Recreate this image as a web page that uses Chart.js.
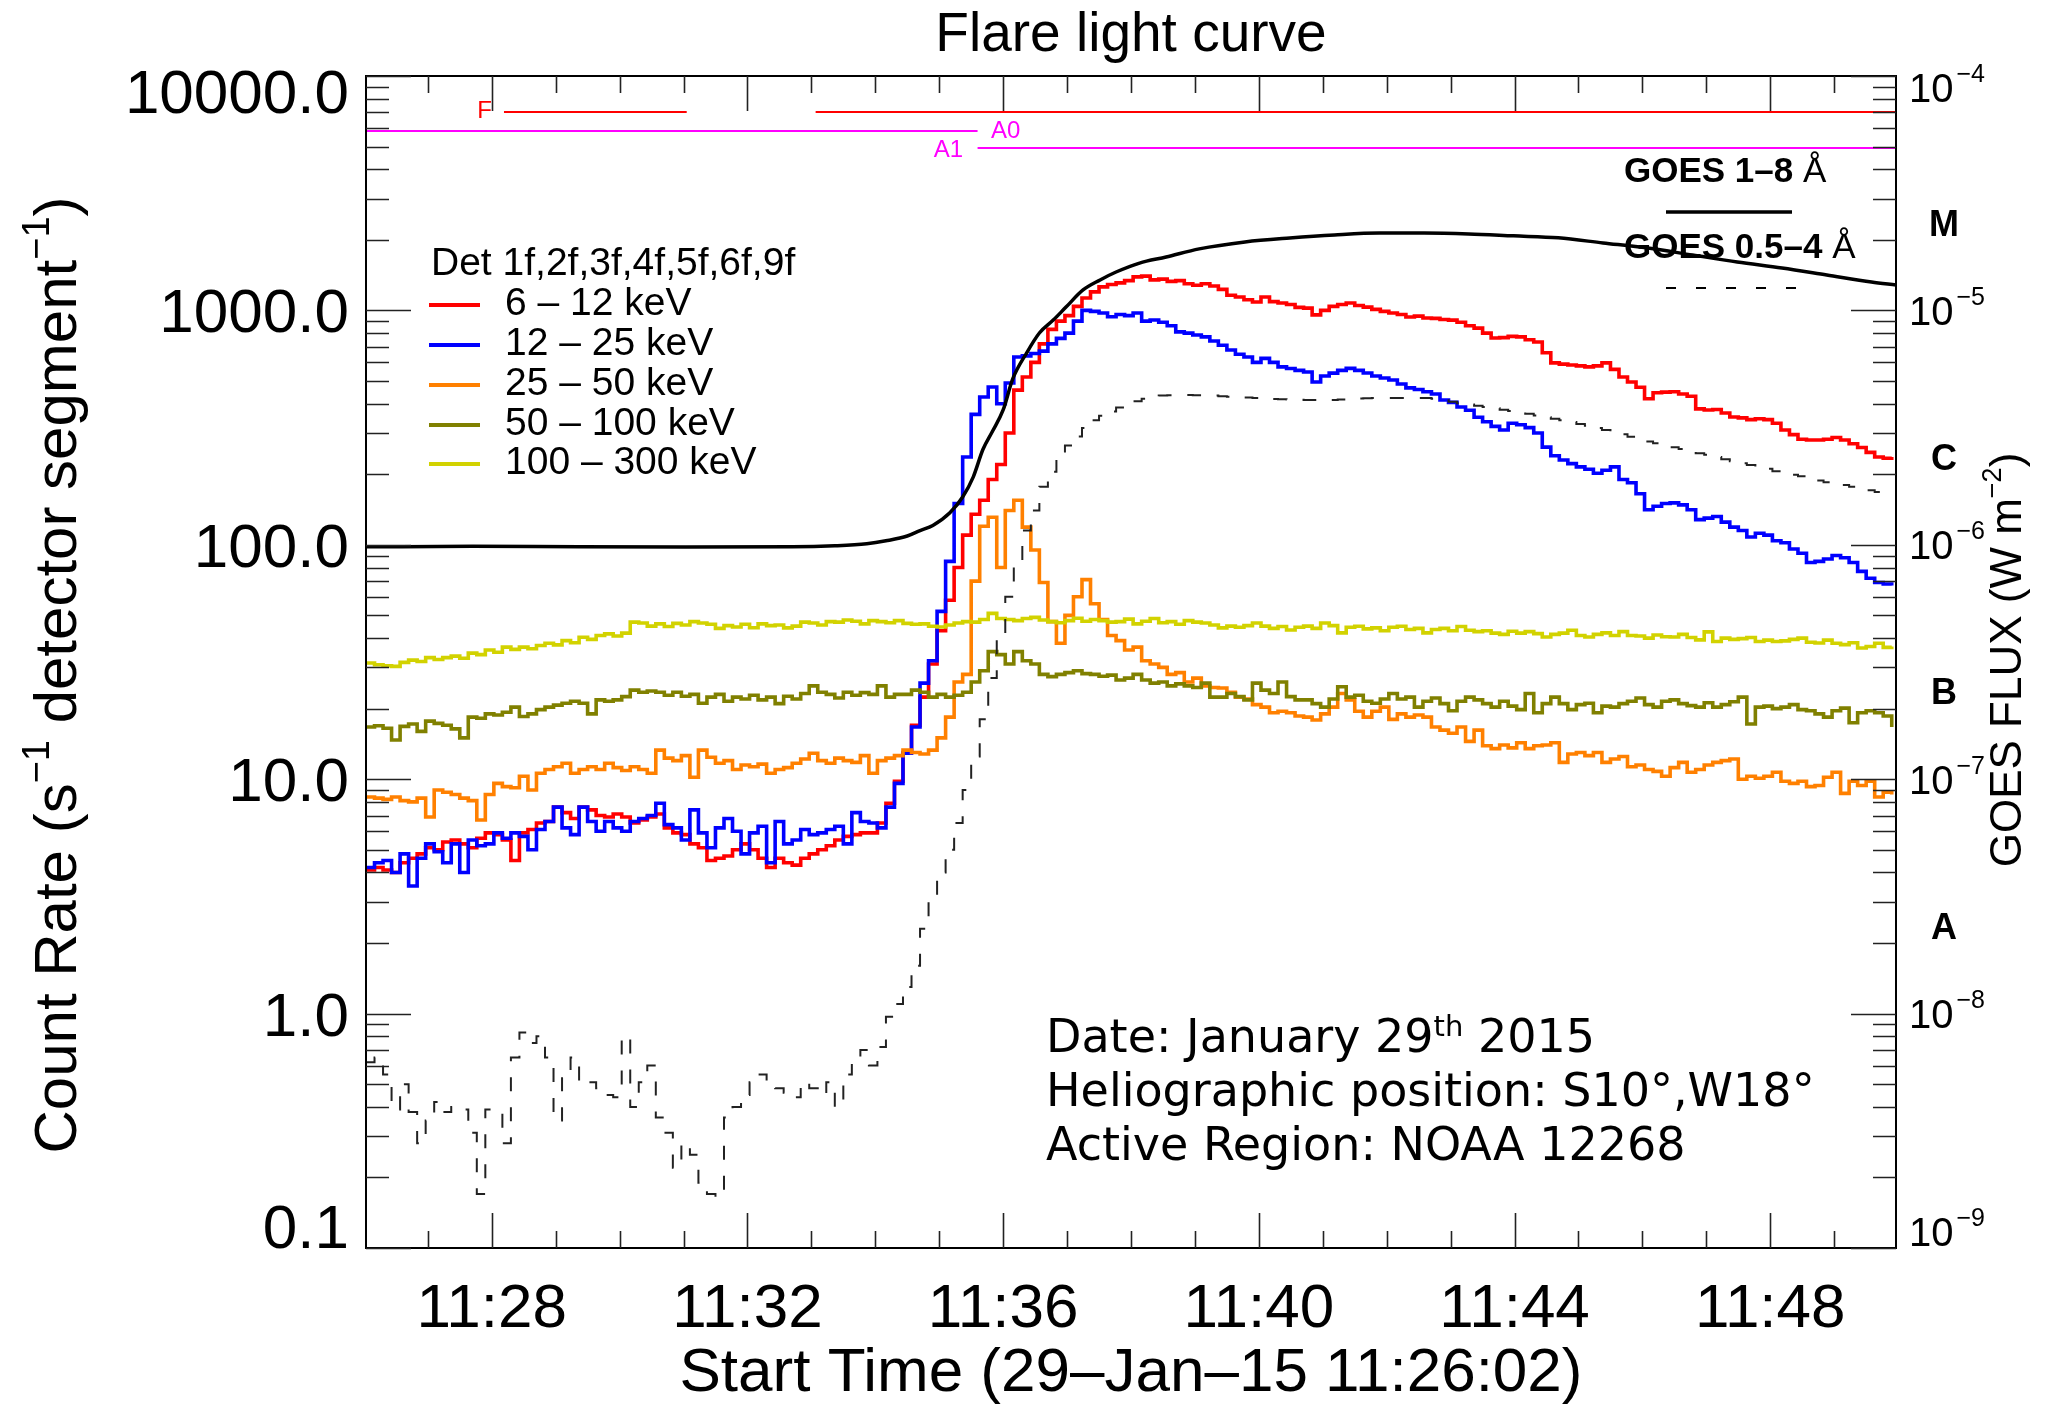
<!DOCTYPE html>
<html>
<head>
<meta charset="utf-8">
<title>Flare light curve</title>
<script src="https://cdn.jsdelivr.net/npm/chart.js@4.4.1/dist/chart.umd.min.js"></script>
<style>
html, body { margin: 0; padding: 0; background: #ffffff; }
#box { width: 2050px; height: 1406px; position: relative; }
canvas { display: block; }
</style>
</head>
<body>
<div id="box"><canvas id="chart" width="2050" height="1406" style="width:2050px;height:1406px"></canvas></div>
<script>
// ================= DATA =================
// RHESSI count rates (s^-1 detector segment^-1), 8 s bins starting 11:26:02
const binSeconds = 8;
const rate6to12 = [
  4.1, 4.2, 4.1, 4.0, 4.4, 4.6, 4.8, 5.1, 5.0, 5.4,
  5.5, 5.3, 5.1, 5.6, 5.9, 5.8, 5.5, 4.5, 5.9, 6.1,
  6.5, 6.6, 7.6, 7.2, 6.8, 7.6, 7.4, 7.0, 6.9, 7.1,
  6.9, 6.5, 6.7, 6.9, 7.1, 6.2, 5.9, 5.8, 5.3, 5.1,
  4.5, 4.6, 4.7, 5.0, 5.3, 5.0, 4.6, 4.2, 4.6, 4.4,
  4.3, 4.6, 4.8, 5.0, 5.2, 5.5, 5.7, 5.8, 5.9, 5.9,
  6.5, 7.9, 9.8, 13.0, 17.0, 22.4, 31, 43, 58, 80,
  110, 135, 155, 190, 220, 300, 457, 520, 600, 720,
  830, 900, 950, 1040, 1130, 1200, 1260, 1290, 1310, 1340,
  1390, 1400, 1350, 1360, 1330, 1340, 1300, 1280, 1300, 1270,
  1230, 1160, 1140, 1110, 1086, 1141, 1090, 1076, 1060, 1030,
  1023, 957, 1000, 1040, 1060, 1076, 1050, 1033, 1010, 990,
  975, 960, 937, 945, 928, 925, 915, 909, 890, 860,
  840, 800, 762, 765, 775, 771, 750, 733, 660, 597,
  590, 585, 580, 574, 580, 597, 560, 520, 495, 470,
  420, 445, 448, 450, 440, 430, 380, 376, 378, 365,
  351, 348, 342, 345, 342, 330, 309, 295, 282, 280,
  280, 282, 287, 280, 270, 260, 248, 237, 234, 237
];
const rate12to25 = [
  4.2, 4.4, 4.5, 4.0, 4.8, 3.5, 4.6, 5.3, 4.9, 4.4,
  5.3, 4.0, 5.5, 5.2, 5.3, 5.9, 5.6, 5.9, 5.7, 5.0,
  6.1, 6.6, 7.6, 6.2, 5.8, 7.6, 6.6, 6.0, 6.6, 6.2,
  6.0, 6.6, 6.8, 7.0, 7.9, 6.4, 6.2, 5.5, 7.4, 5.9,
  5.1, 6.2, 6.8, 6.0, 4.8, 5.9, 6.3, 4.4, 6.6, 5.3,
  5.5, 6.1, 5.8, 5.9, 6.1, 6.3, 5.3, 7.2, 6.6, 6.5,
  6.2, 7.6, 9.6, 12.9, 16.7, 25.7, 32, 52, 85, 150,
  237, 360, 427, 471, 400, 490, 633, 640, 655, 670,
  720, 760, 800, 900, 1000, 990, 975, 940, 960, 950,
  975, 900, 910, 890, 860, 810, 800, 785, 771, 740,
  710, 678, 650, 633, 600, 624, 600, 574, 565, 555,
  546, 495, 525, 540, 555, 566, 555, 541, 525, 515,
  505, 485, 467, 460, 450, 440, 415, 405, 387, 375,
  350, 335, 320, 309, 330, 325, 316, 300, 261, 240,
  230, 222, 215, 210, 202, 208, 215, 190, 184, 165,
  141, 146, 150, 151, 148, 141, 128, 130, 132, 125,
  119, 115, 108, 112, 110, 104, 102, 96, 92, 84,
  85, 87, 90, 88, 84, 77, 72, 69, 68, 67
];
const rate25to50 = [
  8.4, 8.3, 8.2, 8.4, 8.1, 8.0, 8.3, 6.9, 9.0, 8.8,
  8.6, 8.3, 8.1, 6.7, 8.6, 9.6, 9.3, 9.2, 10.3, 9.0,
  10.6, 11.0, 11.3, 11.7, 10.6, 11.0, 11.3, 11.0, 11.7, 11.2,
  10.9, 11.3, 11.0, 10.6, 13.3, 12.3, 12.0, 12.6, 10.2, 13.3,
  12.4, 11.7, 12.0, 11.0, 11.5, 11.3, 11.6, 10.6, 11.0, 11.2,
  11.7, 12.2, 12.9, 12.0, 11.7, 12.3, 12.0, 11.8, 12.6, 10.6,
  12.0, 12.3, 12.6, 13.3, 13.0, 12.8, 13.3, 15.0, 18.4, 26,
  28, 70, 120, 131, 80, 140, 155, 119, 95, 69,
  47, 38, 50, 60, 71, 56, 48, 41, 39, 35.6,
  36.6, 32, 31, 30, 28, 28.5, 26, 27, 25, 24.6,
  24.5, 23.5, 22.4, 22.0, 20.8, 20.3, 19.2, 19.5, 19.2, 18.6,
  18.4, 17.9, 19.0, 20.3, 23.2, 21.8, 19.5, 18.4, 19.5, 20.3,
  18.0, 19.0, 18.4, 18.8, 18.4, 16.7, 16.2, 15.7, 16.7, 14.5,
  16.2, 13.9, 13.5, 14.0, 13.6, 14.3, 13.5, 13.9, 14.0, 14.3,
  11.8, 12.8, 13.0, 12.6, 13.0, 11.8, 12.2, 12.5, 11.3, 11.5,
  11.0, 10.8, 10.3, 11.2, 11.8, 10.7, 11.0, 11.5, 11.8, 12.0,
  12.2, 10.0, 10.3, 10.1, 10.3, 10.7, 9.8, 9.6, 9.8, 9.3,
  9.4, 10.2, 10.7, 8.7, 9.8, 9.4, 9.8, 8.4, 8.8, 8.6
];
const rate50to100 = [
  16.7, 16.9, 16.5, 14.7, 16.8, 17.2, 16.0, 17.7, 17.3, 17.0,
  16.4, 15.0, 18.4, 18.2, 19.0, 18.8, 19.3, 20.3, 18.5, 19.0,
  19.8, 20.3, 20.7, 21.1, 21.5, 21.1, 19.0, 21.8, 21.5, 21.8,
  22.5, 24.0, 23.5, 23.8, 23.5, 22.8, 23.5, 22.6, 23.0, 21.1,
  22.4, 23.0, 21.5, 22.4, 22.0, 22.8, 21.8, 22.4, 21.0, 22.6,
  22.0, 23.2, 25.0, 23.5, 23.0, 22.2, 23.5, 22.8, 23.4, 23.0,
  25.0, 22.4, 23.0, 23.0, 24.0, 23.5, 22.4, 23.0, 22.4, 22.8,
  23.5, 26.0, 29.0, 35.0, 34.0, 31.0, 35.0, 32.0, 31.0, 28.0,
  27.4, 28.0, 28.5, 29.0, 28.2, 28.0, 27.5, 27.8, 26.5, 27.0,
  28.0, 26.5, 25.7, 26.0, 25.0, 25.5, 25.0, 24.6, 25.7, 22.4,
  22.4, 23.2, 22.5, 21.8, 25.7, 24.0, 23.2, 26.0, 22.5, 21.8,
  21.8, 21.0, 20.3, 22.0, 24.8, 22.4, 22.8, 21.5, 21.1, 22.0,
  23.2, 22.0, 22.4, 20.3, 21.5, 22.2, 21.0, 19.6, 21.5, 22.4,
  21.8, 21.0, 20.3, 21.5, 20.5, 19.8, 23.2, 19.2, 21.0, 22.4,
  21.0, 19.8, 20.8, 21.1, 19.2, 20.5, 20.3, 21.0, 21.5, 22.2,
  20.8, 20.3, 21.5, 21.8, 21.0, 20.6, 20.3, 21.2, 20.3, 20.8,
  21.4, 22.4, 17.2, 20.3, 20.5, 20.0, 20.3, 20.8, 19.8, 19.6,
  19.0, 18.4, 19.6, 20.1, 17.4, 19.2, 19.6, 19.2, 18.6, 16.7
];
const rate100to300 = [
  31.3, 30.8, 30.5, 30.3, 31.5, 32.2, 31.8, 33.0, 32.4, 33.0,
  33.5, 32.8, 34.5, 34.0, 35.6, 34.8, 36.6, 35.8, 36.6, 36.0,
  37.2, 38.0, 37.4, 39.0, 38.2, 40.3, 39.5, 41.0, 41.7, 40.8,
  42.0, 46.8, 46.4, 45.0, 46.0, 44.8, 46.2, 45.5, 47.0, 46.4,
  45.8, 44.0, 45.2, 44.6, 45.8, 44.3, 46.0, 45.2, 45.5, 44.2,
  45.0, 46.8, 46.4, 45.5, 47.0, 46.8, 47.8, 47.2, 46.0, 47.5,
  47.0, 46.5, 47.5, 46.2, 45.8, 46.0, 44.9, 44.6, 45.5, 46.4,
  47.0, 46.8, 48.0, 51.0, 48.5, 48.0, 47.5, 48.5, 49.0, 47.8,
  47.0, 46.5, 47.5, 48.6, 47.2, 48.0, 47.5, 46.8, 47.0, 48.2,
  46.0, 47.2, 48.5, 46.5, 47.0, 45.8, 47.5, 46.8, 46.4, 45.5,
  44.2, 45.0, 44.5, 45.2, 46.4, 45.0, 44.0, 44.8, 43.3, 44.5,
  45.0, 44.0, 46.4, 45.2, 42.1, 44.5, 44.9, 43.8, 44.2, 43.0,
  44.5, 44.9, 43.5, 44.0, 42.1, 43.5, 44.0, 43.0, 44.8, 43.2,
  42.6, 43.0, 42.0, 41.5, 42.8, 42.0, 42.6, 41.8, 40.4, 41.5,
  42.0, 43.2, 41.0, 40.4, 41.5, 42.1, 41.0, 42.6, 41.0, 40.8,
  40.0, 41.2, 40.5, 40.4, 41.5, 40.2, 39.3, 42.5, 38.7, 40.0,
  39.5, 39.8, 40.2, 38.7, 39.2, 38.7, 38.9, 39.5, 40.0, 38.4,
  38.1, 39.2, 38.0, 37.5, 38.2, 36.3, 36.8, 38.0, 36.5, 36.8
];
// GOES 0.5-4 A flux on the same 8 s grid, in units of 1e-8 W m^-2
const goes05to4 = [
  0.62, 0.65, 0.55, 0.39, 0.50, 0.38, 0.28, 0.35, 0.42, 0.38,
  0.40, 0.39, 0.31, 0.17, 0.39, 0.39, 0.28, 0.65, 0.83, 0.75,
  0.80, 0.65, 0.35, 0.55, 0.65, 0.50, 0.51, 0.48, 0.45, 0.44,
  0.80, 0.40, 0.51, 0.60, 0.36, 0.31, 0.22, 0.28, 0.25, 0.19,
  0.17, 0.165, 0.36, 0.40, 0.45, 0.51, 0.55, 0.50, 0.48, 0.46,
  0.44, 0.51, 0.48, 0.45, 0.51, 0.40, 0.55, 0.62, 0.70, 0.60,
  0.72, 0.97, 1.10, 1.30, 1.60, 2.3, 3.0, 4.0, 5.0, 6.5,
  9.0, 12.5, 18, 27, 42, 60, 85, 115, 140, 177,
  205, 240, 265, 290, 315, 340, 355, 370, 385, 398,
  410, 420, 428, 433, 435, 436, 436, 435, 435, 433,
  430, 428, 426, 425, 423, 421, 419, 418, 417, 416,
  415, 415, 414, 415, 417, 419, 421, 422, 423, 423,
  423, 423, 423, 423, 423, 420, 414, 408, 402, 397,
  392, 387, 382, 377, 372, 367, 362, 356, 350, 345,
  340, 334, 328, 322, 315, 309, 303, 296, 289, 282,
  276, 271, 266, 261, 256, 251, 246, 242, 237, 232,
  227, 223, 219, 215, 211, 206, 202, 199, 196, 192,
  188, 185, 183, 180, 177, 174, 171, 168, 164, 162
];
// GOES 1-8 A flux (units of 1e-8 W m^-2) at its own sample times (s after 11:26:02)
const goes1to8Time = [0, 100, 200, 300, 400, 440, 470, 488, 508, 520, 532, 548, 560, 570, 579,
  588, 598, 607, 620, 632, 645, 657, 673, 689, 704, 726, 751, 782, 825, 867, 909, 951, 993,
  1035, 1077, 1119, 1161, 1203, 1245, 1287, 1329, 1371, 1413, 1436];
const goes1to8 = [98, 98.5, 98, 97.8, 98, 99, 101, 104, 109, 115, 121, 137, 160, 195, 255,
  305, 376, 510, 658, 801, 909, 1033, 1222, 1349, 1458, 1592, 1690, 1830, 1959, 2037, 2099, 2138, 2138,
  2120, 2080, 2040, 1940, 1845, 1723, 1609, 1516, 1416, 1322, 1283];

// RHESSI flag / attenuator state intervals (s after 11:26:02)
const flagFIntervals = [[129.5, 301], [422, 1436]];
const attenA0Interval = [0, 574];
const attenA1Interval = [574, 1436];

// Axis ticks and labels
const timeEndSec = 1436;
const minuteTickStart = 58;               // 11:27:00
const timeTickSec = [118, 358, 598, 838, 1078, 1318];
const timeTickLabels = ['11:28', '11:32', '11:36', '11:40', '11:44', '11:48'];
const countTickValues = [0.1, 1, 10, 100, 1000, 10000];
const countTickLabels = ['0.1', '1.0', '10.0', '100.0', '1000.0', '10000.0'];
const goesTickExponents = [-9, -8, -7, -6, -5, -4];
const goesClassLabels = ['A', 'B', 'C', 'M'];
const goesClassFlux = [2.3e-8, 2.3e-7, 2.3e-6, 2.3e-5];
const bandLabels = ['6 – 12 keV', '12 – 25 keV', '25 – 50 keV', '50 – 100 keV', '100 – 300 keV'];
const detectorLabel = 'Det 1f,2f,3f,4f,5f,6f,9f';
const goesLegendLabels = [['GOES 1–8', ' Å'], ['GOES 0.5–4', ' Å']];
const infoDate = ['Date: January 29', 'th', ' 2015'];
const infoPosition = 'Heliographic position: S10°,W18°';
const infoRegion = 'Active Region: NOAA 12268';

// ================= BUILD =================
const GOES_UNIT = 1e-8;
const binStart = rate6to12.map((_, i) => i * binSeconds);
const toXY = (vals, k) => vals.map((v, i) => ({ x: binStart[i], y: v * (k || 1) }));
const FONT = '"Liberation Sans", Arial, Helvetica, sans-serif';
const INFO_FONT = '"DejaVu Sans", Verdana, sans-serif';
const bandColors = ['#ff0000', '#0000ff', '#ff8000', '#808000', '#d2d200'];
const bandSeries = [rate6to12, rate12to25, rate25to50, rate50to100, rate100to300];
const bandOrder = [8, 7, 6, 5, 4];   // lower order is drawn on top

function segmentsToData(intervals, level) {
  const out = [];
  intervals.forEach((iv, j) => {
    if (j > 0) out.push({ x: (intervals[j - 1][1] + iv[0]) / 2, y: null });
    out.push({ x: iv[0], y: level }, { x: iv[1], y: level });
  });
  return out;
}

const datasets = [];
datasets.push({
  label: 'GOES 1-8', yAxisID: 'yGoes', order: 0,
  data: goes1to8Time.map((t, i) => ({ x: t, y: goes1to8[i] * GOES_UNIT })),
  borderColor: '#000', borderWidth: 3.5, pointRadius: 0, cubicInterpolationMode: 'monotone', fill: false
});
datasets.push({
  label: 'GOES 0.5-4', yAxisID: 'yGoes', order: 1,
  data: toXY(goes05to4, GOES_UNIT),
  borderColor: '#222', borderWidth: 2, borderDash: [14, 16], pointRadius: 0, stepped: true, fill: false
});
datasets.push({ label: 'F', yAxisID: 'yCount', order: 2, data: segmentsToData(flagFIntervals, 7020),
  borderColor: '#ff0000', borderWidth: 2, pointRadius: 0, spanGaps: false });
datasets.push({ label: 'A0', yAxisID: 'yCount', order: 2, data: segmentsToData([attenA0Interval], 5825),
  borderColor: '#ff00ff', borderWidth: 2, pointRadius: 0 });
datasets.push({ label: 'A1', yAxisID: 'yCount', order: 2, data: segmentsToData([attenA1Interval], 4930),
  borderColor: '#ff00ff', borderWidth: 2, pointRadius: 0 });
bandSeries.forEach((s, i) => {
  datasets.push({
    label: bandLabels[i], yAxisID: 'yCount', order: bandOrder[i],
    data: toXY(s), borderColor: bandColors[i], borderWidth: 3.6, pointRadius: 0,
    stepped: true, fill: false, borderJoinStyle: 'miter'
  });
});

function drawRich(ctx, parts, x, y, align, angle) {
  ctx.save();
  ctx.translate(x, y);
  if (angle) ctx.rotate(angle);
  let w = 0;
  for (const p of parts) { ctx.font = p.font; w += ctx.measureText(p.text).width + (p.gap || 0); }
  let cx = align === 'center' ? -w / 2 : (align === 'right' ? -w : 0);
  ctx.textAlign = 'left';
  ctx.textBaseline = 'alphabetic';
  for (const p of parts) {
    ctx.font = p.font;
    ctx.fillStyle = p.color || '#000';
    cx += (p.gap || 0);
    ctx.fillText(p.text, cx, -(p.rise || 0));
    cx += ctx.measureText(p.text).width;
  }
  ctx.restore();
}

const decor = {
  id: 'decor',
  afterDatasetsDraw(chart) {
    const { ctx, chartArea: a, scales } = chart;
    const xs = scales.x, yc = scales.yCount, yg = scales.yGoes;
    ctx.save();

    // frame
    ctx.strokeStyle = '#000';
    ctx.lineWidth = 2;
    ctx.strokeRect(a.left, a.top, a.right - a.left, a.bottom - a.top);

    // inward ticks
    ctx.strokeStyle = '#222';
    ctx.lineWidth = 1.6;
    ctx.beginPath();
    for (let t = minuteTickStart; t <= xs.max; t += 60) {
      const px = Math.round(xs.getPixelForValue(t)) + 0.5;
      const L = timeTickSec.includes(t) ? 35 : 17;
      ctx.moveTo(px, a.bottom); ctx.lineTo(px, a.bottom - L);
      ctx.moveTo(px, a.top); ctx.lineTo(px, a.top + L);
    }
    for (let e = -1; e <= 4; e++) {
      for (let k = 1; k <= 9; k++) {
        const v = k * Math.pow(10, e);
        if (v > 10000.01) break;
        const L = k === 1 ? 45 : 23;
        const pl = Math.round(yc.getPixelForValue(v)) + 0.5;
        ctx.moveTo(a.left, pl); ctx.lineTo(a.left + L, pl);
        const pr = Math.round(yg.getPixelForValue(v * GOES_UNIT)) + 0.5;
        ctx.moveTo(a.right, pr); ctx.lineTo(a.right - L, pr);
      }
    }
    ctx.stroke();

    // left tick labels
    ctx.fillStyle = '#000';
    ctx.font = `62px ${FONT}`;
    ctx.textAlign = 'right';
    ctx.textBaseline = 'alphabetic';
    countTickValues.forEach((v, i) => {
      let y = yc.getPixelForValue(v) + 22;
      if (i === countTickValues.length - 1) y += 15;
      if (i === 0) y -= 22;
      ctx.fillText(countTickLabels[i], a.left - 17, y);
    });

    // bottom tick labels
    ctx.textAlign = 'center';
    timeTickSec.forEach((t, i) => {
      ctx.fillText(timeTickLabels[i], xs.getPixelForValue(t), 1327);
    });

    // right tick labels 10^-n
    goesTickExponents.forEach((e, i) => {
      let y = yg.getPixelForValue(Math.pow(10, e)) + 14.5;
      if (i === goesTickExponents.length - 1) y += 11.5;
      if (i === 0) y -= 17;
      drawRich(ctx, [
        { text: '10', font: `40px ${FONT}` },
        { text: '−' + Math.abs(e), font: `25px ${FONT}`, rise: 20, gap: 3 }
      ], a.right + 13, y, 'left', 0);
    });

    // GOES class letters
    ctx.font = `bold 36px ${FONT}`;
    ctx.textAlign = 'center';
    ctx.textBaseline = 'middle';
    goesClassLabels.forEach((c, i) => {
      ctx.fillText(c, 1944, yg.getPixelForValue(goesClassFlux[i]));
    });

    // title
    ctx.textBaseline = 'alphabetic';
    ctx.font = `55px ${FONT}`;
    ctx.fillText('Flare light curve', (a.left + a.right) / 2, 51);

    // x-axis title
    ctx.font = `62px ${FONT}`;
    ctx.fillText('Start Time (29–Jan–15 11:26:02)', (a.left + a.right) / 2, 1391);

    // y-axis titles
    drawRich(ctx, [
      { text: 'Count Rate (s', font: `60px ${FONT}` },
      { text: '−1', font: `38px ${FONT}`, rise: 27 },
      { text: ' detector segment', font: `60px ${FONT}` },
      { text: '−1', font: `38px ${FONT}`, rise: 27 },
      { text: ')', font: `60px ${FONT}` }
    ], 76, 675, 'center', -Math.PI / 2);
    drawRich(ctx, [
      { text: 'GOES FLUX (W m', font: `44px ${FONT}` },
      { text: '−2', font: `27px ${FONT}`, rise: 20 },
      { text: ')', font: `44px ${FONT}` }
    ], 2021, 660, 'center', -Math.PI / 2);

    // RHESSI legend
    ctx.textAlign = 'left';
    ctx.font = `39px ${FONT}`;
    ctx.fillStyle = '#000';
    ctx.fillText(detectorLabel, 431, 275);
    const legY = [305, 345, 385, 425, 464];
    bandLabels.forEach((lab, i) => {
      ctx.strokeStyle = bandColors[i];
      ctx.lineWidth = 4;
      ctx.setLineDash([]);
      ctx.beginPath();
      ctx.moveTo(429, legY[i]); ctx.lineTo(480, legY[i]);
      ctx.stroke();
      ctx.fillStyle = '#000';
      ctx.fillText(lab, 505, legY[i] + 10);
    });

    // GOES legend
    drawRich(ctx, [
      { text: goesLegendLabels[0][0], font: `bold 35px ${FONT}` },
      { text: goesLegendLabels[0][1], font: `35px ${FONT}` }
    ], 1624, 182, 'left', 0);
    drawRich(ctx, [
      { text: goesLegendLabels[1][0], font: `bold 35px ${FONT}` },
      { text: goesLegendLabels[1][1], font: `35px ${FONT}` }
    ], 1624, 258, 'left', 0);
    ctx.strokeStyle = '#000';
    ctx.lineWidth = 3.5;
    ctx.beginPath(); ctx.moveTo(1666, 212); ctx.lineTo(1792, 212); ctx.stroke();
    ctx.lineWidth = 2;
    ctx.setLineDash([10, 20]);
    ctx.beginPath(); ctx.moveTo(1666, 288); ctx.lineTo(1796, 288); ctx.stroke();
    ctx.setLineDash([]);

    // flag labels
    ctx.font = `24px ${FONT}`;
    ctx.fillStyle = '#ff0000';
    ctx.textAlign = 'right';
    ctx.fillText('F', 492, 118);
    ctx.fillStyle = '#ff00ff';
    ctx.textAlign = 'left';
    ctx.fillText('A0', 991, 138);
    ctx.textAlign = 'right';
    ctx.fillText('A1', 963, 157);

    // info text
    drawRich(ctx, [
      { text: infoDate[0], font: `46px ${INFO_FONT}` },
      { text: infoDate[1], font: `29px ${INFO_FONT}`, rise: 16 },
      { text: infoDate[2], font: `46px ${INFO_FONT}` }
    ], 1046, 1052, 'left', 0);
    ctx.fillStyle = '#000';
    ctx.textAlign = 'left';
    ctx.font = `46px ${INFO_FONT}`;
    ctx.fillText(infoPosition, 1046, 1106);
    ctx.fillText(infoRegion, 1046, 1160);

    ctx.restore();
  }
};

new Chart(document.getElementById('chart'), {
  type: 'line',
  data: { datasets },
  options: {
    responsive: false,
    devicePixelRatio: 1,
    animation: false,
    events: [],
    layout: { padding: { top: 76, left: 0, right: 0, bottom: 0 } },
    plugins: { legend: { display: false }, tooltip: { enabled: false }, title: { display: false } },
    scales: {
      x: {
        type: 'linear', position: 'bottom', min: 0, max: timeEndSec,
        grid: { display: false }, border: { display: false }, ticks: { display: false },
        afterFit: s => { s.height = 158; }
      },
      yCount: {
        type: 'logarithmic', position: 'left', min: 0.1, max: 10000,
        grid: { display: false }, border: { display: false }, ticks: { display: false },
        afterFit: s => { s.width = 366; }
      },
      yGoes: {
        type: 'logarithmic', position: 'right', min: 1e-9, max: 1e-4,
        grid: { display: false }, border: { display: false }, ticks: { display: false },
        afterFit: s => { s.width = 154; }
      }
    }
  },
  plugins: [decor]
});
</script>
</body>
</html>
